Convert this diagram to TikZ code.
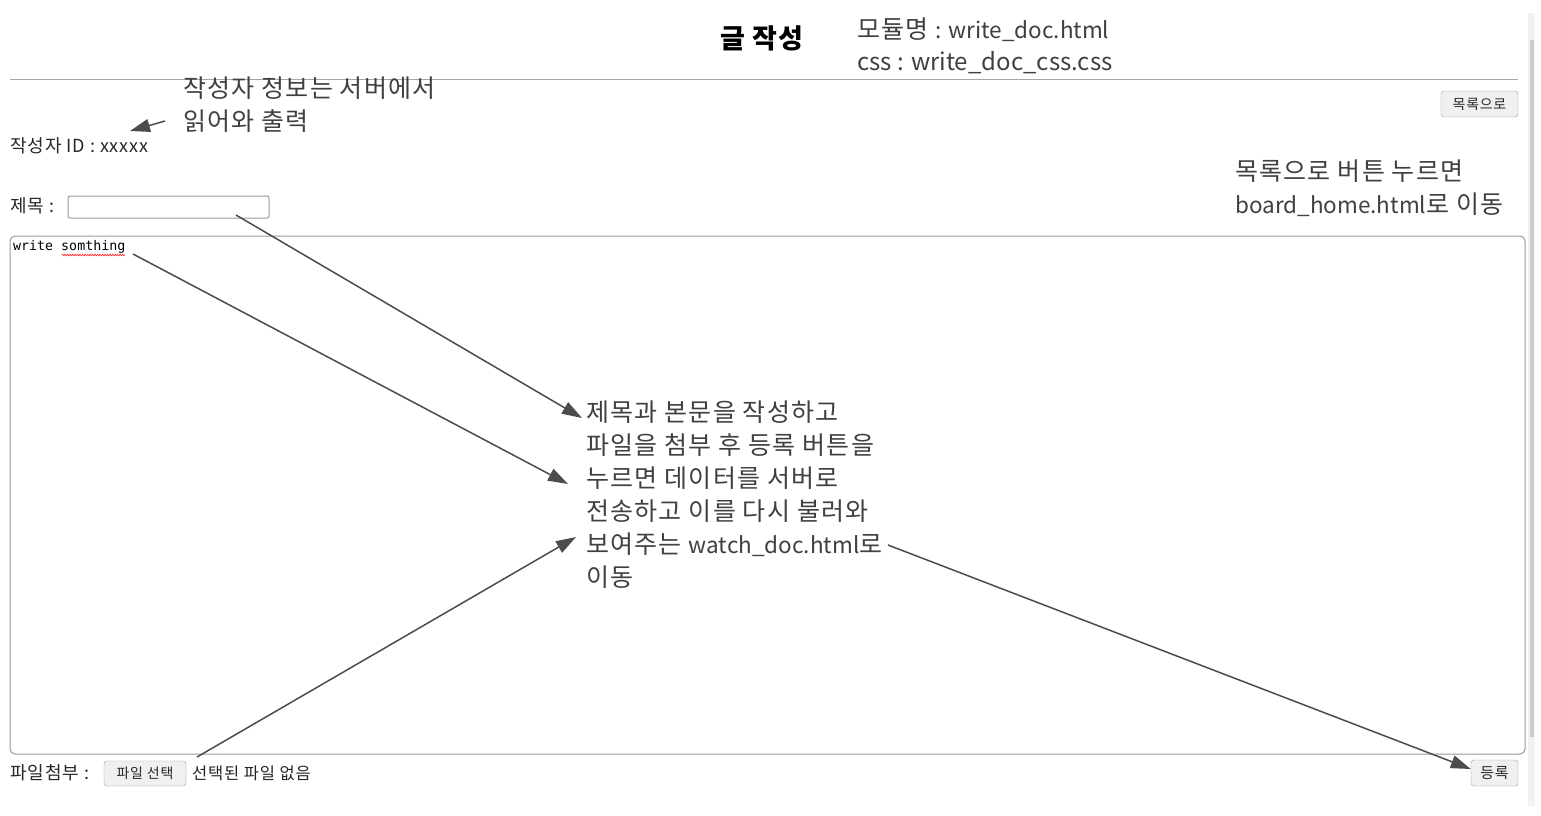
\documentclass[tikz,border=0pt]{standalone}
\usepackage{fontspec}
\setmainfont{Noto Sans CJK KR}
\newfontfamily\hf[LetterSpace=5]{Noto Sans CJK KR}
\newfontfamily\latf{Noto Sans CJK KR}
\newfontfamily\monof{DejaVu Sans Mono}
\newcommand\lat[1]{{\latf\fontsize{24}{33}\selectfont #1}}
\newcommand\latn[1]{{\latf\fontsize{22.5}{33}\selectfont #1}}
\usetikzlibrary{arrows.meta,decorations.pathmorphing}
\begin{document}
\begin{tikzpicture}[x=1pt,y=-1pt,
  note/.style={anchor=west, inner sep=0, font=\hf\fontsize{25}{33}\selectfont, text=black!75, align=left},
  uitext/.style={anchor=west, inner sep=0, font=\hf\fontsize{18}{18}\selectfont, text=black!85},
  arr/.style={draw=black!70, line width=1.5pt, -{Triangle[length=20pt,width=13pt]}},
  btn/.style={draw=gray!75, fill=gray!12, rounded corners=3pt, inner sep=0, font=\hf\fontsize{14}{14}\selectfont, text=black!85},
  field/.style={draw=gray!80, line width=1pt, rounded corners=2pt, inner sep=0}]
\useasboundingbox (0,0) rectangle (1541,815);
\fill[white] (0,0) rectangle (1541,815);
% scrollbar
\fill[gray!10] (1528,13) rectangle (1535,806);
\fill[gray!40] (1529.5,40) rectangle (1533.5,737);
% header
\node[anchor=west, inner sep=0, font=\hf\fontsize{27}{27}\selectfont\bfseries] (title) at (720,38) {글 작성};
\node[note] (module) at (857,30) {모듈명 \latn{: write\_doc.html}};
\node[note] (css) at (857,63) {\lat{css : write\_doc\_css.css}};
\draw[gray!70, line width=1pt] (10,79) -- (1518,79);
% author
\node[note] (authnote) at (183,105) {작성자 정보는 서버에서\\읽어와 출력};
\node[uitext] (authid) at (10,146) {작성자 ID : xxxxx};
% list button
\node[btn, minimum width=77pt, minimum height=26pt] (listbtn) at (1479.5,104) {목록으로};
\node[note] (listnote) at (1235,188) {목록으로 버튼 누르면\\\latn{board\_home.html}로 이동};
% title field
\node[uitext] (titlelabel) at (10,206) {제목 :};
\node[field, minimum width=201pt, minimum height=22pt] (titlebox) at (168.5,207) {};
% textarea
\node[field, rounded corners=5pt, minimum width=1515pt, minimum height=518pt] (area) at (767.5,495) {};
\node[anchor=west, inner sep=0, font=\monof\fontsize{13.3}{13}\selectfont, text=black] (areatext) at (13,247) {write somthing};
\draw[red!80, line width=0.7pt, decorate, decoration={zigzag, amplitude=0.8pt, segment length=2.5pt}] (62,255) -- (125,255);
% main note
\node[note] (mainnote) at (586,495) {제목과 본문을 작성하고\\파일을 첨부 후 등록 버튼을\\누르면 데이터를 서버로\\전송하고 이를 다시 불러와\\보여주는 \latn{watch\_doc.html}로\\이동};
% bottom
\node[uitext] (filelabel) at (10,773) {파일첨부 :};
\node[btn, minimum width=82pt, minimum height=25pt] (filebtn) at (145,773.5) {파일 선택};
\node[uitext, font=\hf\fontsize{16.5}{16}\selectfont] (nofile) at (192,773) {선택된 파일 없음};
\node[btn, minimum width=47pt, minimum height=26pt, font=\hf\fontsize{15}{15}\selectfont] (submit) at (1494.5,773) {등록};
% connector end points
\coordinate (s1) at (236,215);
\coordinate (e1) at (582,418);
\coordinate (s2) at (133,254);
\coordinate (e2) at (568,484);
\coordinate (s3) at (197,757);
\coordinate (e3) at (576,537);
\coordinate (s4) at (888,545);
\coordinate (s5) at (165,121);
\coordinate (e5) at (130,131);
\draw[arr] (s1) -- (e1);
\draw[arr] (s2) -- (e2);
\draw[arr] (s3) -- (e3);
\draw[arr] (s4) -- ([yshift=4pt]submit.west);
\draw[arr] (s5) -- (e5);
\end{tikzpicture}
\end{document}
